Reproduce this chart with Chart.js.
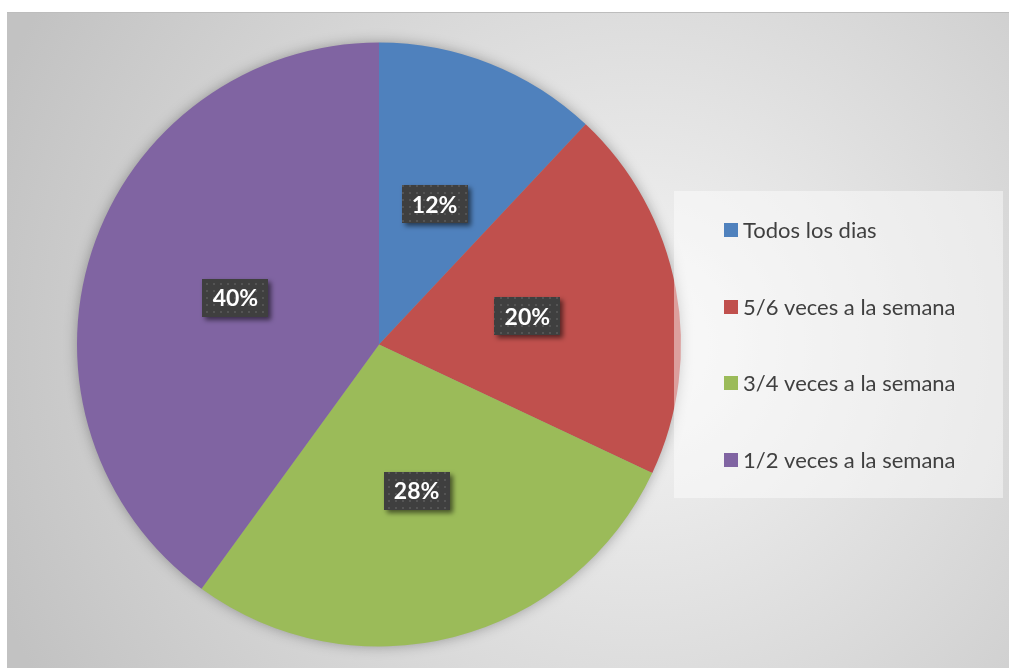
<!DOCTYPE html>
<html>
<head>
<meta charset="utf-8">
<script src="https://cdn.jsdelivr.net/npm/chart.js@4"></script>
<style>
  html, body { margin: 0; padding: 0; background: #fff; }
  #wrap { width: 1009px; height: 668px; }
</style>
</head>
<body>
<div id="wrap"><canvas id="pieChart" width="1009" height="668"></canvas></div>
<script>
const categories = ["Todos los dias", "5/6 veces a la semana", "3/4 veces a la semana", "1/2 veces a la semana"];
const values = [12, 20, 28, 40];
const colors = ["#4F81BD", "#C0504D", "#9BBB59", "#8064A2"];

// background: white page with grey radial-gradient plot area
const backgroundPlugin = {
  id: "bg",
  beforeDraw(chart) {
    const c = chart.ctx;
    c.save();
    c.fillStyle = "#ffffff";
    c.fillRect(0, 0, chart.width, chart.height);
    const g = c.createRadialGradient(640, 345, 0, 640, 345, 690);
    g.addColorStop(0, "#f5f5f5");
    g.addColorStop(1, "#c2c2c2");
    c.fillStyle = g;
    c.fillRect(7, 13, chart.width - 7, chart.height - 13);
    c.fillStyle = "#bdbdbd";
    c.fillRect(7, 12, chart.width - 7, 1);
    c.restore();
  },
  beforeDatasetsDraw(chart) {
    const arc = chart.getDatasetMeta(0).data[0];
    if (!arc) return;
    const c = chart.ctx;
    c.save();
    c.shadowColor = "rgba(0,0,0,0.35)";
    c.shadowBlur = 14;
    c.fillStyle = "#999";
    c.beginPath();
    c.arc(arc.x, arc.y, arc.outerRadius - 1, 0, Math.PI * 2);
    c.fill();
    c.restore();
  }
};

// dotted dark pattern for the value labels
function makePattern(ctx) {
  const p = document.createElement("canvas");
  p.width = 7; p.height = 7;
  const pc = p.getContext("2d");
  pc.fillStyle = "#3f3f3f";
  pc.fillRect(0, 0, 7, 7);
  pc.fillStyle = "#545454";
  pc.fillRect(3, 3, 2, 2);
  return ctx.createPattern(p, "repeat");
}

const labelPlugin = {
  id: "valueLabels",
  afterDatasetsDraw(chart) {
    const c = chart.ctx;
    const pattern = makePattern(c);
    const meta = chart.getDatasetMeta(0);
    meta.data.forEach((arc, i) => {
      const pos = arc.tooltipPosition(true);
      const w = 66, h = 38;
      const x = Math.round(pos.x - w / 2), y = Math.round(pos.y - h / 2);
      c.save();
      c.shadowColor = "rgba(0,0,0,0.55)";
      c.shadowBlur = 5;
      c.shadowOffsetX = 3;
      c.shadowOffsetY = 3;
      c.fillStyle = pattern;
      c.fillRect(x, y, w, h);
      c.restore();
      c.save();
      c.fillStyle = "#ffffff";
      c.font = "bold 23px Lato, 'Open Sans', sans-serif";
      c.textAlign = "center";
      c.textBaseline = "middle";
      c.fillText(values[i] + "%", pos.x, pos.y + 1);
      c.restore();
    });
  }
};

// legend drawn on the right with a light box
const legendPlugin = {
  id: "sideLegend",
  afterDraw(chart) {
    const c = chart.ctx;
    c.save();
    c.fillStyle = "rgba(255,255,255,0.45)";
    c.fillRect(674, 191, 329, 307);
    c.font = "22px Lato, 'Open Sans', sans-serif";
    c.textBaseline = "middle";
    chart.data.labels.forEach((lab, i) => {
      const cy = 230 + i * 76.7;
      c.fillStyle = colors[i];
      c.fillRect(724, Math.round(cy - 7), 14, 14);
      c.fillStyle = "#404040";
      c.fillText(lab, 743, cy + 1);
    });
    c.restore();
  }
};

new Chart(document.getElementById("pieChart").getContext("2d"), {
  type: "pie",
  data: {
    labels: categories,
    datasets: [{
      data: values,
      backgroundColor: colors,
      borderWidth: 0
    }]
  },
  options: {
    responsive: false,
    animation: false,
    layout: { padding: { left: 77, right: 328, top: 42, bottom: 21 } },
    plugins: {
      legend: { display: false },
      tooltip: { enabled: false }
    }
  },
  plugins: [backgroundPlugin, labelPlugin, legendPlugin]
});
</script>
</body>
</html>
